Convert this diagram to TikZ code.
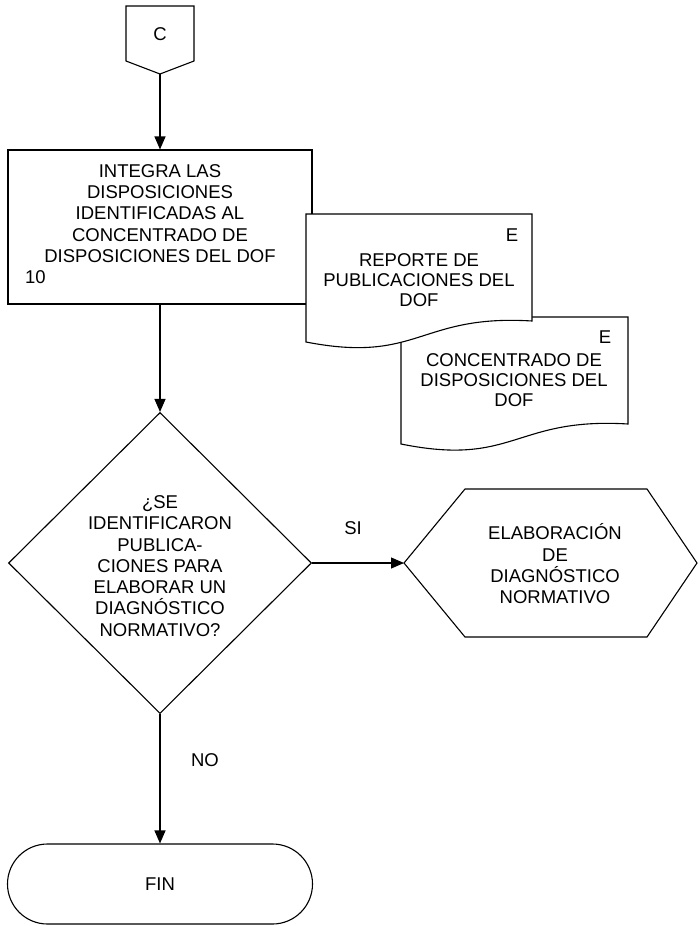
\documentclass[tikz,border=0pt]{standalone}
\usepackage{fontspec}
\setmainfont{Liberation Sans}
\usetikzlibrary{shapes.geometric,shapes.misc,arrows.meta}

\begin{document}
\begin{tikzpicture}[x=1pt,y=-1pt,line width=1.1pt,
  txt/.style={font=\fontsize{18.5}{21.3}\selectfont,align=center,inner sep=0pt},
  doctxt/.style={font=\fontsize{18.5}{20.3}\selectfont,align=center,inner sep=0pt},
  flow/.style={draw,-{Triangle[length=13pt,width=11pt]}},
  box/.style={draw,fill=white,inner sep=0pt}]
\useasboundingbox (0,0) rectangle (698,926);

% off-page connector
\draw[fill=white] (126,6) -- (194,6) -- (194,61) -- (160,74) -- (126,61) -- cycle;
\coordinate (cTip) at (160,74);
\node[txt] (cLbl) at (160,34) {C};

% process box
\node[box,minimum width=304pt,minimum height=154pt] (integra) at (160,227) {};
\node[txt] (integraTxt) at (160,224) {INTEGRA LAS\\DISPOSICIONES\\IDENTIFICADAS AL\\CONCENTRADO DE\\DISPOSICIONES DEL DOF\\\makebox[270pt][l]{10}};

% documents
\draw[fill=white] (401,317) -- (628,317) -- (628,424)
  .. controls (514.5,417) and (514.5,467) .. (401,444) -- cycle;
\node[doctxt] (docTwoE) at (605,337) {E};
\node[doctxt] (docTwo) at (514,380) {CONCENTRADO DE\\DISPOSICIONES DEL\\DOF};

\draw[fill=white] (306,214) -- (532,214) -- (532,321)
  .. controls (419,314) and (419,364) .. (306,342) -- cycle;
\node[doctxt] (docOneE) at (512,235) {E};
\node[doctxt] (docOne) at (419,280) {REPORTE DE\\PUBLICACIONES DEL\\DOF};

% decision
\node[box,diamond,minimum width=303pt,minimum height=301pt] (q) at (160,563) {};
\node[txt] (qTxt) at (160,566) {¿SE\\IDENTIFICARON\\PUBLICA-\\CIONES PARA\\ELABORAR UN\\DIAGNÓSTICO\\NORMATIVO?};

% preparation (hexagon)
\draw[fill=white] (404,563) -- (465,489) -- (647,489) -- (697,563) -- (647,637) -- (465,637) -- cycle;
\coordinate (hexW) at (404,563);
\node[txt] (hexTxt) at (555,564) {ELABORACIÓN\\DE\\DIAGNÓSTICO\\NORMATIVO};

% terminator
\node[box,rounded rectangle,minimum width=305pt,minimum height=80pt,font=\fontsize{18.5}{21.3}\selectfont] (fin) at (160,884) {FIN};

% connectors
\draw[flow] (cTip) -- (integra.north);
\draw[flow] (integra.south) -- (q.north);
\draw[flow] (q.east) -- (hexW);
\draw[flow] (q.south) -- (fin.north);

\node[txt] (si) at (353,528) {SI};
\node[txt] (no) at (205,760) {NO};
\end{tikzpicture}
\end{document}
